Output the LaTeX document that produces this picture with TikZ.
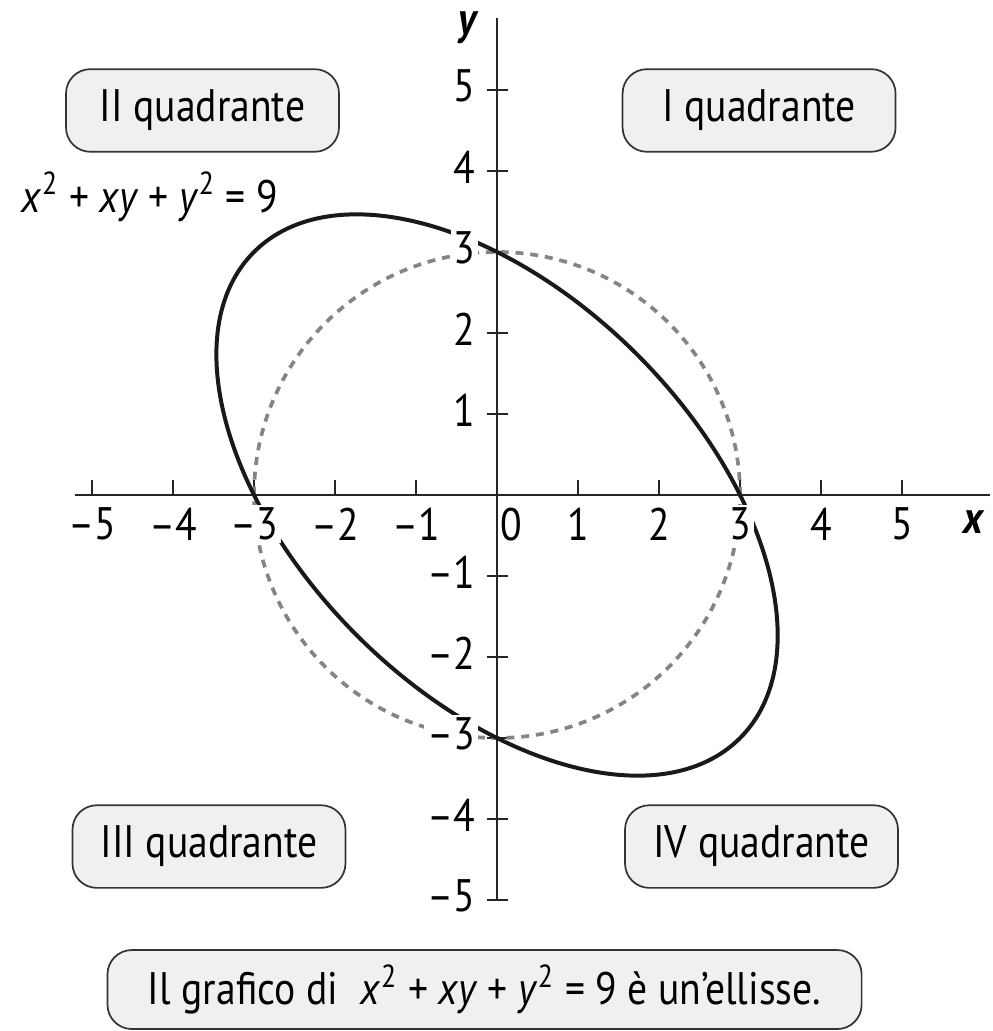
\documentclass[tikz,border=0pt]{standalone}
\usepackage{fontspec}
\setmainfont{PT Sans}[FakeStretch=0.87]
\usetikzlibrary{positioning}
\newcommand{\eqtext}{\textit{x}\textsuperscript{2} + \textit{xy} + \textit{y}\textsuperscript{2} = 9}

\begin{document}
\begin{tikzpicture}[x=1cm,y=1cm,
  every node/.style={font=\fontsize{16}{19}\selectfont},
  axis/.style={line width=0.75pt,black!85},
  curve/.style={line width=1.4pt,black!90},
  dashcirc/.style={line width=1.3pt,black!48,dash pattern=on 2.8pt off 2.4pt},
  quad/.style={draw=black!80,fill=black!6,line width=0.6pt,rounded corners=0.3cm,
    minimum height=1.02cm,minimum width=3.37cm,inner xsep=0.3cm},
  xlab/.style={fill=white,inner sep=1pt},
  ylab/.style={fill=white,inner sep=1pt,anchor=east}]
\useasboundingbox (-6.136,-6.617) rectangle (6.111,6.111);
\coordinate (xs) at (-5.21,0);
\coordinate (xe) at (6.09,0);
\coordinate (ys) at (0,-5.0);
\coordinate (ye) at (0,5.89);
\draw[axis] (xs) -- (xe);
\draw[axis] (ys) -- (ye);
\draw[axis] (-5,0) -- (-5,0.19) (-4,0) -- (-4,0.19) (-3,0) -- (-3,0.19) (-2,0) -- (-2,0.19) (-1,0) -- (-1,0.19)
  (1,0) -- (1,0.19) (2,0) -- (2,0.19) (3,0) -- (3,0.19) (4,0) -- (4,0.19) (5,0) -- (5,0.19);
\draw[axis] (-0.12,-5) -- (0.14,-5) (-0.12,-4) -- (0.14,-4) (-0.12,-3) -- (0.14,-3) (-0.12,-2) -- (0.14,-2) (-0.12,-1) -- (0.14,-1)
  (-0.12,1) -- (0.14,1) (-0.12,2) -- (0.14,2) (-0.12,3) -- (0.14,3) (-0.12,4) -- (0.14,4) (-0.12,5) -- (0.14,5);
\draw[dashcirc] (0,0) circle (3);
\draw[curve,rotate=-45] (0,0) ellipse (4.243 and 2.449);
\node[xlab] (xm5) at (-5,-0.36) {--5};
\node[xlab] (xm4) at (-4,-0.36) {--4};
\node[xlab] (xm3) at (-3,-0.36) {--3};
\node[xlab] (xm2) at (-2,-0.36) {--2};
\node[xlab] (xm1) at (-1,-0.36) {--1};
\node[inner sep=1pt] (x0) at (0.17,-0.36) {0};
\node[xlab] (x1) at (1,-0.36) {1};
\node[xlab] (x2) at (2,-0.36) {2};
\node[xlab] (x3) at (3,-0.36) {3};
\node[xlab] (x4) at (4,-0.36) {4};
\node[xlab] (x5) at (5,-0.36) {5};
\node[font=\fontsize{16}{19}\selectfont\bfseries\itshape] (xname) at (5.88,-0.33) {x};
\node[ylab] (y5) at (-0.23,5.05) {5};
\node[ylab] (y4) at (-0.23,4.05) {4};
\node[ylab] (y3) at (-0.23,3.05) {3};
\node[ylab] (y2) at (-0.23,2.05) {2};
\node[ylab] (y1) at (-0.23,1.05) {1};
\node[ylab] (ym1) at (-0.23,-0.95) {--1};
\node[ylab] (ym2) at (-0.23,-1.95) {--2};
\node[ylab] (ym3) at (-0.23,-2.95) {--3};
\node[ylab] (ym4) at (-0.23,-3.95) {--4};
\node[ylab] (ym5) at (-0.23,-4.95) {--5};
\node[font=\fontsize{16}{19}\selectfont\bfseries\itshape] (yname) at (-0.37,5.77) {y};
\node (eq) at (-4.284,3.68) {\eqtext};
\node[quad] (q2) at (-3.636,4.747) {II quadrante};
\node[quad,right=3.48cm of q2] (q1) {I quadrante};
\node[quad] (q3) at (-3.556,-4.340) {III quadrante};
\node[quad,right=3.43cm of q3] (q4) {IV quadrante};
\node[quad,minimum height=0.975cm,inner xsep=0.5cm] (caption) at (-0.154,-6.105) {Il grafico di\enspace\eqtext{} è un’ellisse.};
\end{tikzpicture}
\end{document}
